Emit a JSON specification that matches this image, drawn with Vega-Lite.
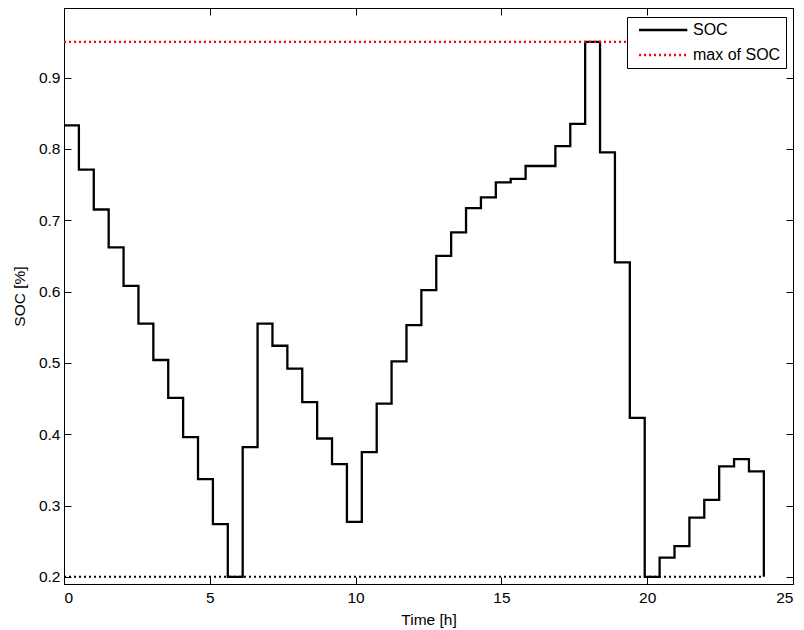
{
  "$schema": "https://vega.github.io/schema/vega-lite/v6.json",
  "width": 729,
  "height": 576,
  "autosize": {"type": "none"},
  "padding": {"left": 64, "top": 8, "right": 11, "bottom": 46},
  "background": "white",
  "config": {
    "view": {"stroke": "black", "strokeWidth": 1},
    "font": "Liberation Sans",
    "axis": {
      "domain": true, "domainColor": "black", "domainWidth": 1,
      "grid": false,
      "tickColor": "black", "tickWidth": 1, "tickSize": -7,
      "labelFont": "Liberation Sans", "labelFontSize": 15.5, "labelColor": "black",
      "titleFont": "Liberation Sans", "titleFontSize": 15.5, "titleFontWeight": "normal", "titleColor": "black"
    }
  },
  "layer": [
    {
      "data": {"values": [{"t": 0, "v": 0.2}, {"t": 24, "v": 0.2}]},
      "mark": {"type": "line", "color": "black", "strokeWidth": 2, "strokeDash": [2, 3], "strokeCap": "butt"},
      "encoding": {
        "x": {"field": "t", "type": "quantitative", "scale": {"domain": [0, 25], "nice": false, "zero": false},
              "axis": {"orient": "top", "labels": false, "title": null, "values": [0, 5, 10, 15, 20, 25]}},
        "y": {"field": "v", "type": "quantitative", "scale": {"domain": [0.19, 0.9975], "nice": false, "zero": false},
              "axis": {"orient": "right", "labels": false, "title": null, "values": [0.2, 0.3, 0.4, 0.5, 0.6, 0.7, 0.8, 0.9]}}
      }
    },
    {
      "data": {"values": [
        {"t": 0, "v": 0.833, "series": "SOC"},
        {"t": 0.5106, "v": 0.771, "series": "SOC"},
        {"t": 1.0213, "v": 0.715, "series": "SOC"},
        {"t": 1.5319, "v": 0.662, "series": "SOC"},
        {"t": 2.0426, "v": 0.608, "series": "SOC"},
        {"t": 2.5532, "v": 0.555, "series": "SOC"},
        {"t": 3.0638, "v": 0.504, "series": "SOC"},
        {"t": 3.5745, "v": 0.451, "series": "SOC"},
        {"t": 4.0851, "v": 0.396, "series": "SOC"},
        {"t": 4.5957, "v": 0.337, "series": "SOC"},
        {"t": 5.1064, "v": 0.274, "series": "SOC"},
        {"t": 5.6170, "v": 0.2, "series": "SOC"},
        {"t": 6.1277, "v": 0.382, "series": "SOC"},
        {"t": 6.6383, "v": 0.555, "series": "SOC"},
        {"t": 7.1489, "v": 0.524, "series": "SOC"},
        {"t": 7.6596, "v": 0.492, "series": "SOC"},
        {"t": 8.1702, "v": 0.445, "series": "SOC"},
        {"t": 8.6809, "v": 0.394, "series": "SOC"},
        {"t": 9.1915, "v": 0.358, "series": "SOC"},
        {"t": 9.7021, "v": 0.277, "series": "SOC"},
        {"t": 10.2128, "v": 0.375, "series": "SOC"},
        {"t": 10.7234, "v": 0.443, "series": "SOC"},
        {"t": 11.2340, "v": 0.502, "series": "SOC"},
        {"t": 11.7447, "v": 0.553, "series": "SOC"},
        {"t": 12.2553, "v": 0.602, "series": "SOC"},
        {"t": 12.7660, "v": 0.650, "series": "SOC"},
        {"t": 13.2766, "v": 0.683, "series": "SOC"},
        {"t": 13.7872, "v": 0.717, "series": "SOC"},
        {"t": 14.2979, "v": 0.732, "series": "SOC"},
        {"t": 14.8085, "v": 0.753, "series": "SOC"},
        {"t": 15.3191, "v": 0.758, "series": "SOC"},
        {"t": 15.8298, "v": 0.776, "series": "SOC"},
        {"t": 16.3404, "v": 0.776, "series": "SOC"},
        {"t": 16.8511, "v": 0.804, "series": "SOC"},
        {"t": 17.3617, "v": 0.835, "series": "SOC"},
        {"t": 17.8723, "v": 0.95, "series": "SOC"},
        {"t": 18.3830, "v": 0.795, "series": "SOC"},
        {"t": 18.8936, "v": 0.641, "series": "SOC"},
        {"t": 19.4043, "v": 0.423, "series": "SOC"},
        {"t": 19.9149, "v": 0.2, "series": "SOC"},
        {"t": 20.4255, "v": 0.227, "series": "SOC"},
        {"t": 20.9362, "v": 0.243, "series": "SOC"},
        {"t": 21.4468, "v": 0.283, "series": "SOC"},
        {"t": 21.9574, "v": 0.308, "series": "SOC"},
        {"t": 22.4681, "v": 0.355, "series": "SOC"},
        {"t": 22.9787, "v": 0.365, "series": "SOC"},
        {"t": 23.4894, "v": 0.348, "series": "SOC"},
        {"t": 24, "v": 0.2, "series": "SOC"},
        {"t": 0, "v": 0.95, "series": "max of SOC"},
        {"t": 24, "v": 0.95, "series": "max of SOC"}
      ]},
      "mark": {"type": "line", "interpolate": "step-after", "strokeWidth": 2.3, "strokeCap": "butt"},
      "encoding": {
        "x": {"field": "t", "type": "quantitative", "scale": {"domain": [0, 25], "nice": false, "zero": false},
              "axis": {"orient": "bottom", "title": "Time [h]", "values": [0, 5, 10, 15, 20, 25], "format": "d", "labelPadding": 13, "titlePadding": 7}},
        "y": {"field": "v", "type": "quantitative", "scale": {"domain": [0.19, 0.9975], "nice": false, "zero": false},
              "axis": {"orient": "left", "title": "SOC [%]", "values": [0.2, 0.3, 0.4, 0.5, 0.6, 0.7, 0.8, 0.9], "format": ".1f", "labelPadding": 11, "titlePadding": 11}},
        "color": {"field": "series", "type": "nominal",
                  "scale": {"domain": ["SOC", "max of SOC"], "range": ["black", "red"]},
                  "legend": {"title": null, "orient": "none", "legendX": 563, "legendY": 9,
                             "symbolType": "M-0.19,0H9.47", "symbolSize": 100, "symbolStrokeWidth": 2.3,
                             "labelFontSize": 16, "labelFont": "Liberation Sans", "labelColor": "black", "labelOffset": 45,
                             "strokeColor": "black", "fillColor": "white", "padding": 5, "rowPadding": 9}},
        "strokeDash": {"field": "series", "type": "nominal",
                       "scale": {"domain": ["SOC", "max of SOC"], "range": [[1, 0], [2, 3]]},
                       "legend": {"title": null, "orient": "none", "legendX": 563, "legendY": 9}}
      }
    }
  ],
  "resolve": {"axis": {"x": "independent", "y": "independent"}}
}
